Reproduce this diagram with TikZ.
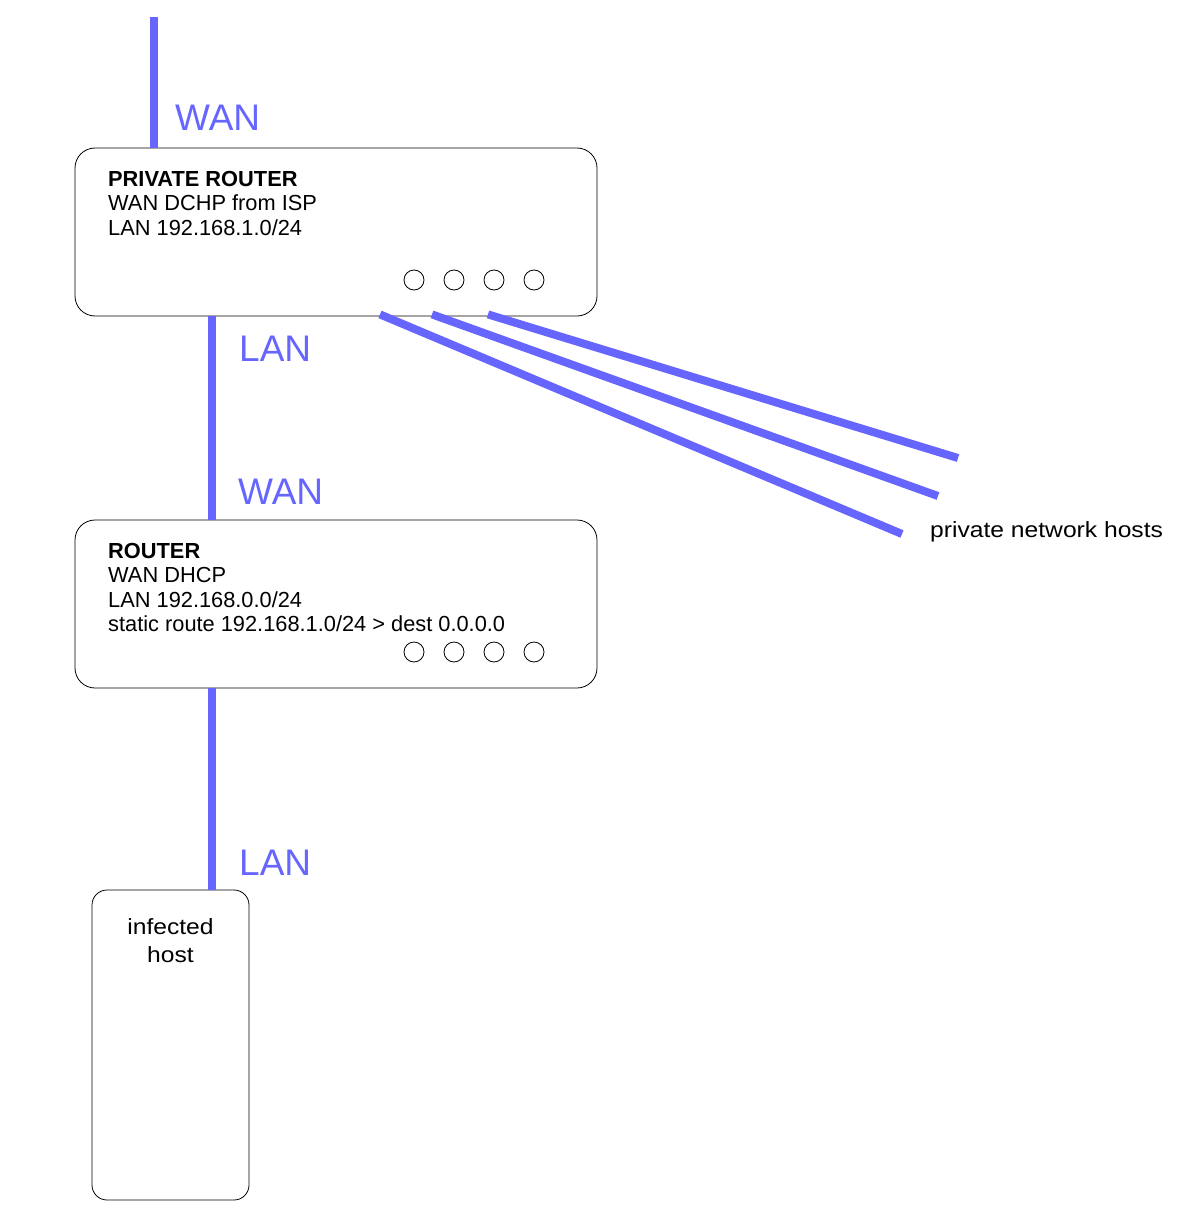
\documentclass[tikz,border=0pt]{standalone}
\usepackage{fontspec}
\setmainfont{Liberation Sans}
\newfontfamily\widefont[FakeStretch=1.12]{Liberation Sans}
\usetikzlibrary{positioning}

\begin{document}
\begin{tikzpicture}[x=1pt,y=-1pt,
    box/.style={draw, rounded corners=20pt, line width=0.8pt, inner sep=0pt},
    port/.style={draw, circle, line width=0.8pt, minimum size=20pt, inner sep=0pt},
    cable/.style={line width=8pt, draw=cablecol},
    info/.style={anchor=north west, align=left, inner sep=0pt, font=\fontsize{21.8}{24.5}\selectfont},
    note/.style={inner sep=0pt, font=\widefont\fontsize{22}{28}\selectfont},
    tag/.style={anchor=base west, inner sep=0pt, text=cablecol, font=\fontsize{37}{40}\selectfont}]
    \definecolor{cablecol}{HTML}{6666FF}
    \useasboundingbox (0,0) rectangle (1184,1217);

    % routers and host
    \node[box, minimum width=522pt, minimum height=168pt] (privrouter) at (336,232) {};
    \node[box, minimum width=522pt, minimum height=168pt] (router) at (336,604) {};
    \node[box, rounded corners=15pt, minimum width=157pt, minimum height=310pt] (host) at (170.5,1045) {};

    \node[info] (privtext) at (108,171) {\textbf{PRIVATE ROUTER}\\WAN DCHP from ISP\\LAN 192.168.1.0/24};
    \node[info] (routertext) at (108,543) {\textbf{ROUTER}\\WAN DHCP\\LAN 192.168.0.0/24\\static route 192.168.1.0/24 > dest 0.0.0.0};
    \node[note, anchor=north, align=center] (hosttext) at (host.north) [yshift=-29pt] {infected\\host};

    % ports
    \foreach \i in {0,...,3} {
        \node[port] (pp\i) at (414+40*\i,280) {};
        \node[port] (rp\i) at (414+40*\i,652) {};
    }

    % cables
    \coordinate (isp) at (154,17);
    \coordinate (h1) at (902,534);
    \coordinate (h2) at (938,496);
    \coordinate (h3) at (958,458);
    \draw[cable] (isp) -- (isp |- privrouter.north);
    \draw[cable] ([xshift=-124pt]privrouter.south) -- ([xshift=-124pt]router.north);
    \draw[cable] ([xshift=-124pt]router.south) -- ([xshift=41.5pt]host.north);
    \draw[cable] ([xshift=44pt,yshift=2pt]privrouter.south) -- (h1);
    \draw[cable] ([xshift=96pt,yshift=2pt]privrouter.south) -- (h2);
    \draw[cable] ([xshift=152pt,yshift=2pt]privrouter.south) -- (h3);

    % labels
    \node[tag] (wan1) at (175,131) {WAN};
    \node[tag] (lan1) at (239,361) {LAN};
    \node[tag] (wan2) at (238,504) {WAN};
    \node[tag] (lan2) at (239,875) {LAN};
    \node[note, anchor=base west] (hosts) at (930,537) {private network hosts};
\end{tikzpicture}
\end{document}
